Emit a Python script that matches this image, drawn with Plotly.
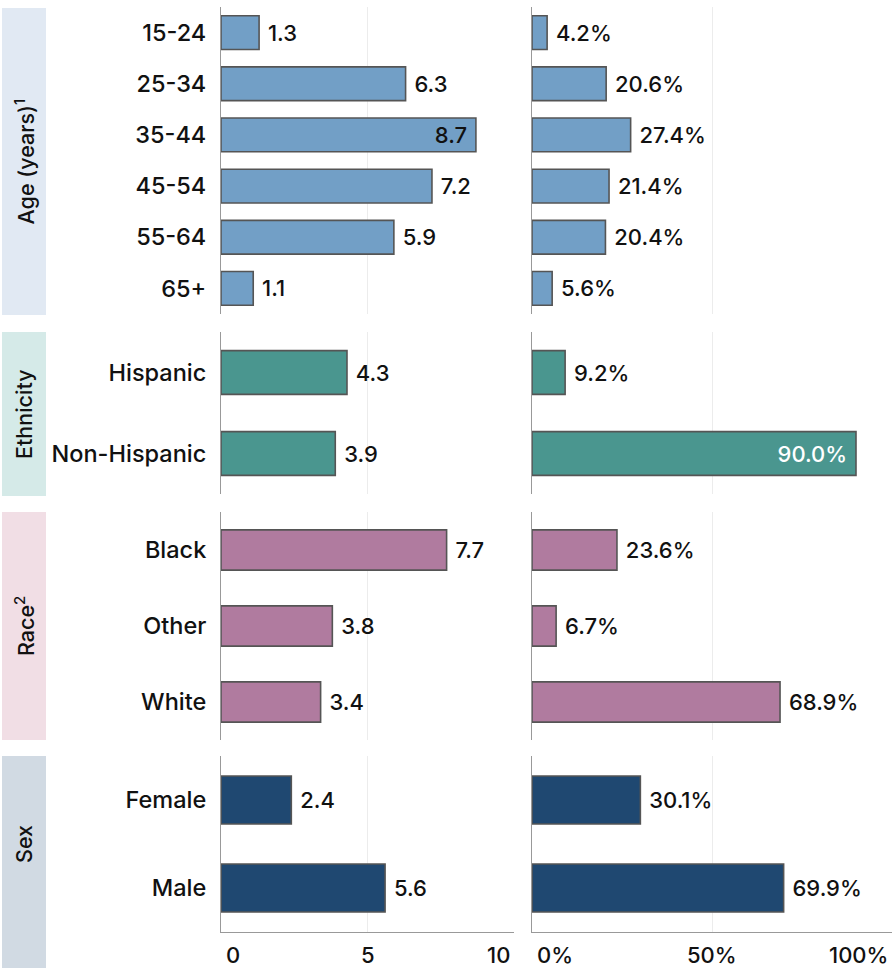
import plotly.graph_objects as go

# ---------------- data ----------------
age_groups = ["15-24", "25-34", "35-44", "45-54", "55-64", "65+"]
age_rate = [1.3, 6.3, 8.7, 7.2, 5.9, 1.1]
age_pct = [4.2, 20.6, 27.4, 21.4, 20.4, 5.6]

eth_groups = ["Hispanic", "Non-Hispanic"]
eth_rate = [4.3, 3.9]
eth_pct = [9.2, 90.0]

race_groups = ["Black", "Other", "White"]
race_rate = [7.7, 3.8, 3.4]
race_pct = [23.6, 6.7, 68.9]

sex_groups = ["Female", "Male"]
sex_rate = [2.4, 5.6]
sex_pct = [30.1, 69.9]

group_titles = ["Age (years)<sup>1</sup>", "Ethnicity", "Race<sup>2</sup>", "Sex"]

rate_ticks = [0, 5, 10]
rate_tick_text = ["0", "5", "10"]
pct_ticks = [0, 50, 100]
pct_tick_text = ["0%", "50%", "100%"]

# ---------------- style ----------------
W, H = 895, 968
FONT = "Inter"
WT = 500
TXT = "#111111"
NB = "\u00a0"
bar_colors = ["#729FC6", "#4A968F", "#B07B9F", "#1F4871"]
box_colors = ["#E1E9F3", "#D5EAE8", "#F1DEE5", "#D1DAE3"]
panel_px = [(7, 314), (332, 494), (512, 740), (756, 932)]
box_px = [(8, 315), (332, 496), (512, 740), (756, 968)]
bar_widths = [0.66, 0.54, 0.53, 0.545]
left_dom = [221 / W, 514 / W]
right_dom = [532 / W, 892 / W]

groups = [
    (age_groups, age_rate, age_pct),
    (eth_groups, eth_rate, eth_pct),
    (race_groups, race_rate, race_pct),
    (sex_groups, sex_rate, sex_pct),
]

fig = go.Figure()
layout = {}

def yd(px):
    return 1 - px / H

for r, (cats, rate, pct) in enumerate(groups):
    for c in range(2):
        idx = r * 2 + c + 1
        xa = "x" if idx == 1 else f"x{idx}"
        ya = "y" if idx == 1 else f"y{idx}"
        vals = rate if c == 0 else pct
        limit = 8 if c == 0 else 80
        unit = "" if c == 0 else "%"
        inside = [v > limit for v in vals]
        pos = ["inside" if i else "outside" for i in inside]
        tmpl = [("%{x:.1f}" + unit + NB) if i else (NB + "%{x:.1f}" + unit) for i in inside]
        inside_col = TXT if c == 0 else "white"
        fig.add_trace(go.Bar(
            x=vals, y=cats, orientation="h",
            xaxis=xa, yaxis=ya,
            marker=dict(color=bar_colors[r], line=dict(color="#555555", width=1.6)),
            width=bar_widths[r],
            texttemplate=tmpl, textposition=pos,
            insidetextanchor="end",
            insidetextfont=dict(family=FONT, size=22, color=inside_col, weight=WT),
            outsidetextfont=dict(family=FONT, size=22, color=TXT, weight=WT),
            constraintext="none", cliponaxis=False,
            showlegend=False, hoverinfo="skip",
        ))
        top, bot = panel_px[r]
        xkey = "xaxis" if idx == 1 else f"xaxis{idx}"
        ykey = "yaxis" if idx == 1 else f"yaxis{idx}"
        layout[xkey] = dict(
            domain=left_dom if c == 0 else right_dom,
            anchor=ya,
            range=[0, 10] if c == 0 else [0, 100],
            tickvals=rate_ticks if c == 0 else pct_ticks,
            showticklabels=False,
            showgrid=True, gridcolor="#ECECEC", gridwidth=1,
            zeroline=False,
            showline=(r == 3), linecolor="#999999", linewidth=1,
            ticks="", fixedrange=True,
        )
        layout[ykey] = dict(
            domain=[yd(bot), yd(top)],
            anchor=xa,
            type="category",
            range=[len(cats) - 0.5, -0.5],
            showticklabels=(c == 0),
            tickfont=dict(family=FONT, size=23.5, color=TXT, weight=WT),
            ticks="", ticklabelstandoff=9,
            showgrid=False, zeroline=False,
            showline=True, linecolor="#999999", linewidth=1,
            fixedrange=True,
        )

shapes = []
annotations = []
for r in range(4):
    b0, b1 = box_px[r]
    mid = (b0 + b1) / 2 if r < 3 else (panel_px[3][0] + panel_px[3][1]) / 2
    shapes.append(dict(type="rect", xref="paper", yref="paper",
                       x0=2 / W, x1=46 / W, y0=yd(b1), y1=yd(b0),
                       fillcolor=box_colors[r], line=dict(width=0), layer="below"))
    annotations.append(dict(xref="paper", yref="paper", x=24 / W, y=yd(mid),
                            text=group_titles[r], textangle=-90, showarrow=False,
                            font=dict(family=FONT, size=21.5, color=TXT, weight=WT),
                            xanchor="center", yanchor="middle"))

# bottom tick labels placed on the bottom axes' scales
anchors = ["left", "center", "right"]
shifts = [3, 0, -2]
for xref, ticks, texts in (("x7", rate_ticks, rate_tick_text), ("x8", pct_ticks, pct_tick_text)):
    for i, (t, s) in enumerate(zip(ticks, texts)):
        annotations.append(dict(xref=xref, yref="paper", x=t, y=yd(955),
                                text=s, showarrow=False, xanchor=anchors[i],
                                xshift=shifts[i], yanchor="middle",
                                font=dict(family=FONT, size=22, color=TXT, weight=WT)))

fig.update_layout(
    width=W, height=H,
    margin=dict(l=0, r=0, t=0, b=0),
    paper_bgcolor="white", plot_bgcolor="white",
    barmode="group",
    shapes=shapes, annotations=annotations,
    font=dict(family=FONT, color=TXT),
    **layout,
)

fig.write_html("out.html", config={"displayModeBar": False},
               post_script="document.body.style.margin='0';document.body.style.overflow='hidden';")
